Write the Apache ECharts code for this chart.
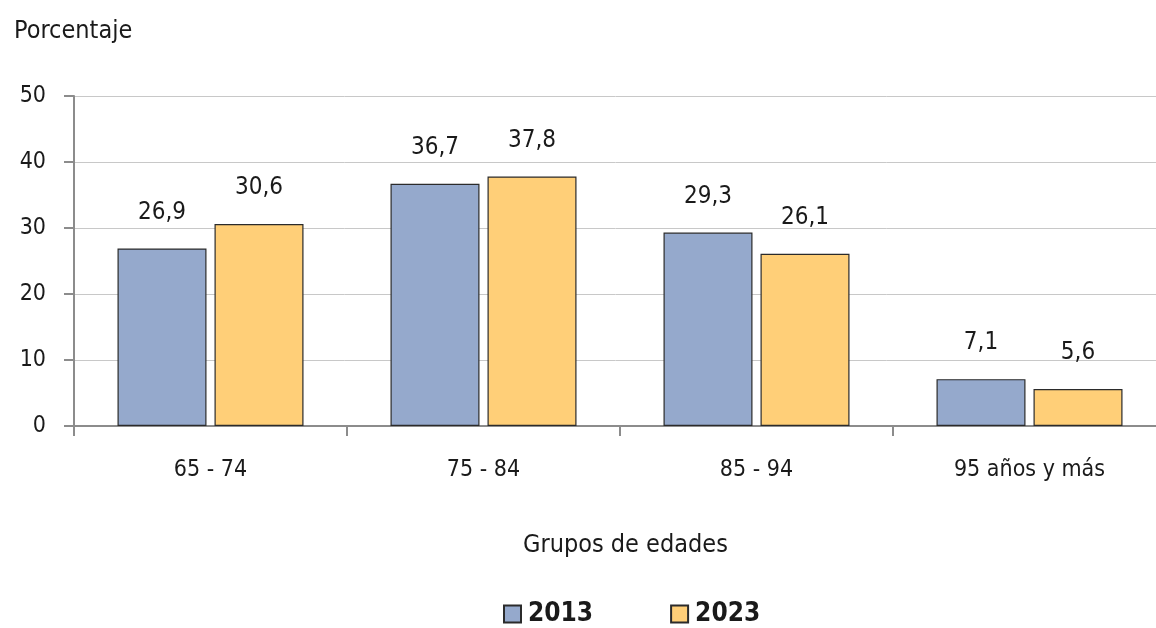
<!DOCTYPE html>
<html>
<head>
<meta charset="utf-8">
<script src="https://cdn.jsdelivr.net/npm/echarts@6/dist/echarts.min.js"></script>
<style>
  html, body { margin: 0; padding: 0; background: #fff; }
  #chart { width: 1156px; height: 628px; }
</style>
</head>
<body>
<div id="chart"></div>
<script>
const categories = ['65 - 74', '75 - 84', '85 - 94', '95 años y más']
const values2013 = [26.9, 36.7, 29.3, 7.1]
const values2023 = [30.6, 37.8, 26.1, 5.6]
const yTicks = [0, 10, 20, 30, 40, 50]

const font = '"Liberation Sans Narrow", "DejaVu Sans Condensed", "Roboto Condensed", "Noto Sans", sans-serif'
const textColor = '#1a1a1a'

const chart = echarts.init(document.getElementById('chart'))

function barSeries(name, data, color) {
  return {
    name,
    type: 'bar',
    data,
    barWidth: 89,
    barGap: '9%',
    itemStyle: {
      color,
      borderColor: '#2b2b2b',
      borderWidth: 1.2
    },
    label: {
      show: true,
      position: 'top',
      distance: 24,
      fontFamily: font,
      fontSize: 24,
      color: textColor,
      formatter: p => String(p.value).replace('.', ',')
    },
    animation: false
  }
}

chart.setOption({
  textStyle: { fontFamily: font },
  grid: {
    left: 74,
    top: 96,
    width: 1092,
    height: 330,
    outerBoundsMode: 'none',
    containLabel: false
  },
  title: {
    text: 'Porcentaje',
    left: 9,
    top: 14,
    textStyle: { fontFamily: font, fontSize: 25, fontWeight: 'normal', color: textColor }
  },
  graphic: [{
    type: 'text',
    left: 523,
    top: 533,
    style: {
      text: 'Grupos de edades',
      font: '25px ' + font,
      fill: textColor
    }
  }],
  legend: {
    top: 596,
    left: 498,
    icon: 'rect',
    itemWidth: 17,
    itemHeight: 17,
    itemGap: 77,
    textStyle: { fontFamily: font, fontSize: 26, fontWeight: 'bold', color: textColor, padding: [0, 0, 0, 2] },
    data: ['2013', '2023']
  },
  xAxis: {
    type: 'category',
    data: categories,
    axisLine: { lineStyle: { color: '#8c8c8c', width: 2 } },
    axisTick: { show: true, length: 10, lineStyle: { color: '#8c8c8c', width: 2 } },
    axisLabel: { fontFamily: font, fontSize: 23, color: textColor, margin: 33 },
    splitLine: { show: false }
  },
  yAxis: {
    type: 'value',
    min: yTicks[0],
    max: yTicks[yTicks.length - 1],
    interval: 10,
    axisLine: { show: true, lineStyle: { color: '#8c8c8c', width: 2 } },
    axisTick: { show: true, length: 10, lineStyle: { color: '#8c8c8c', width: 2 } },
    axisLabel: { fontFamily: font, fontSize: 23, color: textColor, margin: 28 },
    splitLine: { lineStyle: { color: '#c8c8c8', width: 1 } }
  },
  series: [
    barSeries('2013', values2013, '#95a9cc'),
    barSeries('2023', values2023, '#ffcf78')
  ]
})
</script>
</body>
</html>
